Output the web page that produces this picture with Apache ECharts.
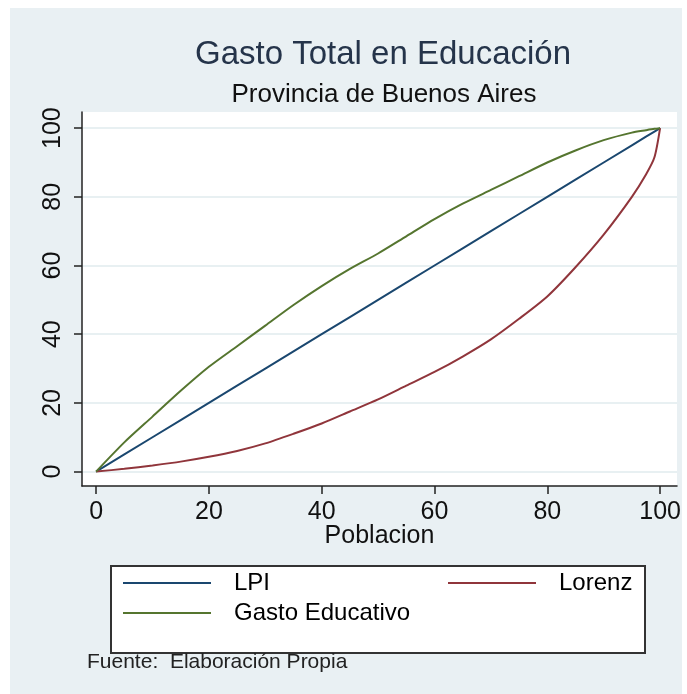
<!DOCTYPE html>
<html>
<head>
<meta charset="utf-8">
<script src="https://cdn.jsdelivr.net/npm/echarts@6/dist/echarts.min.js"></script>
<style>html,body{margin:0;padding:0;background:#fff}#c{width:687px;height:694px}</style>
</head>
<body>
<div id="c"></div>
<script>
const poblacion = [0,5,10,15,20,25,30,35,40,45,50,55,60,65,70,75,80,85,90,95,97.5,99,100];
const lpi       = [0,5,10,15,20,25,30,35,40,45,50,55,60,65,70,75,80,85,90,95,97.5,99,100];
const lorenz    = [0,0.8,1.8,2.9,4.3,6,8.2,11,14,17.5,21,25,29,33.5,38.5,44.5,51,59.5,69,80,86.5,91.5,100];
const gasto     = [0,8.5,16,23.5,30.5,36.5,42.5,48.5,54,59,63.5,68.5,73.5,78,82,86,90,93.5,96.5,98.7,99.4,99.8,100];
const ticks     = [0,20,40,60,80,100];

const pairs = ys => poblacion.map((x,i)=>[x, ys[i]]);
const FONT = '"Liberation Sans", Arial, sans-serif';
const chart = echarts.init(document.getElementById('c'), null, {renderer:'canvas'});
const legendBase = {
  orient:'horizontal', padding:0, itemWidth:88, itemHeight:2, icon:'rect',
  selectedMode:false, z:10,
  textStyle:{fontSize:24, color:'#000', fontFamily:FONT, padding:[0,0,0,18]}
};
chart.setOption({
  backgroundColor:'#e9f0f3',
  animation:false,
  textStyle:{fontFamily:FONT},
  title:[
    {text:'Gasto Total en Educación', left:378, textAlign:'center', top:33,
     textStyle:{fontSize:33, fontWeight:'normal', color:'#25344a', fontFamily:FONT}},
    {text:'Provincia de Buenos Aires', left:379, textAlign:'center', top:77,
     textStyle:{fontSize:26, fontWeight:'normal', color:'#111', fontFamily:FONT}}
  ],
  grid:{left:82, right:10, top:112, bottom:208, show:true, backgroundColor:'#fff', borderWidth:0},
  xAxis:{
    type:'value', min:-2.5, max:103,
    name:'Poblacion', nameLocation:'middle', nameGap:38, nameMoveOverlap:false,
    nameTextStyle:{fontSize:25, color:'#111', fontFamily:FONT},
    axisLine:{show:true, onZero:false, lineStyle:{color:'#222', width:1.5}},
    axisTick:{show:true, length:8, customValues:ticks, lineStyle:{color:'#222', width:1.5}},
    axisLabel:{customValues:ticks, fontSize:25, color:'#111', margin:14, fontFamily:FONT},
    splitLine:{show:false}
  },
  yAxis:{
    type:'value', min:-4.2, max:104.7,
    axisLine:{show:true, onZero:false, lineStyle:{color:'#222', width:1.5}},
    axisTick:{show:true, length:8, customValues:ticks, lineStyle:{color:'#222', width:1.5}},
    axisLabel:{customValues:ticks, fontSize:25, color:'#111', margin:16, rotate:90, fontFamily:FONT},
    splitLine:{show:true, lineStyle:{color:'#e8f0f2', width:2}}
  },
  legend:[
    Object.assign({}, legendBase, {data:['LPI'], left:123, top:571}),
    Object.assign({}, legendBase, {data:['Lorenz'], left:448, top:571}),
    Object.assign({}, legendBase, {data:['Gasto Educativo'], left:123, top:601})
  ],
  graphic:[
    {type:'rect', z:-5, shape:{x:0,y:0,width:687,height:8}, style:{fill:'#fff'}},
    {type:'rect', z:-5, shape:{x:0,y:0,width:10,height:694}, style:{fill:'#fff'}},
    {type:'rect', z:-5, shape:{x:682,y:0,width:5,height:694}, style:{fill:'#fff'}},
    {type:'rect', z:1, shape:{x:111,y:566,width:534,height:87}, style:{fill:'#fff', stroke:'#333', lineWidth:2}},
    {type:'text', z:1, x:87, y:662, style:{text:'Fuente:  Elaboración Propia', font:'21px "Liberation Sans", Arial, sans-serif', fill:'#222', verticalAlign:'middle'}}
  ],
  series:[
    {name:'LPI', type:'line', showSymbol:false, data:pairs(lpi), color:'#1a476f', lineStyle:{width:2, color:'#1a476f'}},
    {name:'Lorenz', type:'line', showSymbol:false, smooth:0.25, data:pairs(lorenz), color:'#90353b', lineStyle:{width:2, color:'#90353b'}},
    {name:'Gasto Educativo', type:'line', showSymbol:false, smooth:0.25, data:pairs(gasto), color:'#55752f', lineStyle:{width:2, color:'#55752f'}}
  ]
});
</script>
</body>
</html>
